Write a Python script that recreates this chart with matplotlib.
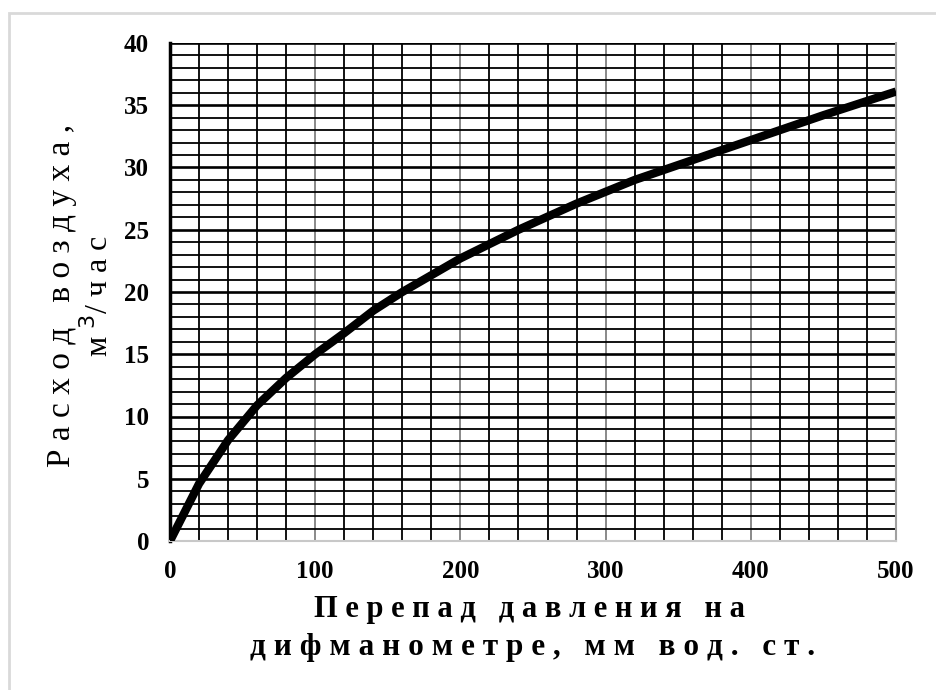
import numpy as np
import matplotlib
matplotlib.use("Agg")
import matplotlib.pyplot as plt
from matplotlib.patches import Rectangle

plt.rcParams["font.family"] = ["Liberation Serif", "DejaVu Serif"]

# перепад давления, мм вод. ст. / расход воздуха, м3/час
dp = [0, 20, 40, 60, 80, 100, 120, 140, 160, 200, 240, 280, 320, 360, 400, 450, 500]
flow = [0, 4.6, 8.1, 10.9, 13.1, 15.0, 16.7, 18.5, 20.0, 22.7, 25.0, 27.1, 29.0,
        30.6, 32.2, 34.2, 36.1]
x_ticks = [0, 100, 200, 300, 400, 500]
y_ticks = [0, 5, 10, 15, 20, 25, 30, 35, 40]

W, H = 936, 690
fig = plt.figure(figsize=(W/100, H/100), dpi=100)
fig.patches.append(Rectangle((8.5/W, 0 - 0.1), 2, (H - 13.5)/H + 0.1,
                             transform=fig.transFigure, fill=False,
                             edgecolor="#d9d9d9", lw=2))

ax = fig.add_axes([170/W, 1 - 541/H, (896 - 170)/W, (541 - 43)/H])
ax.set_xlim(0, 500); ax.set_ylim(0, 40)

# сетка
for xv in range(20, 500, 20):
    ax.axvline(xv, color="#808080" if xv % 100 == 0 else "black", lw=1.3, zorder=1)
for yv in range(1, 41):
    ax.axhline(yv, color="black", lw=1.9 if yv % 5 == 0 else 1.3, zorder=1)

ax.plot(dp, flow, color="black", lw=6, solid_capstyle="butt", zorder=3)

ax.spines["left"].set_linewidth(2.5)
ax.spines["left"].set_color("black")
ax.spines["bottom"].set_color("#c8c8c8"); ax.spines["bottom"].set_linewidth(1.5)
ax.spines["right"].set_color("#a0a0a0"); ax.spines["right"].set_linewidth(1.5)
ax.spines["top"].set_visible(False)

ax.set_xticks(x_ticks); ax.set_yticks(y_ticks)
ax.tick_params(length=0, labelsize=18)
ax.tick_params(axis="x", pad=14)
ax.tick_params(axis="y", pad=15)
for lab in ax.get_xticklabels() + ax.get_yticklabels():
    lab.set_fontweight("bold")

fig.text(529/W, 1 - 610/H, "П е р е п а д   д а в л е н и я   н а",
         ha="center", va="center", fontsize=22, fontweight="bold")
fig.text(533/W, 1 - 647/H, "д и ф м а н о м е т р е ,   м м   в о д .   с т .",
         ha="center", va="center", fontsize=22.5, fontweight="bold")
fig.text(62/W, 1 - 295/H, "Р а с х о д   в о з д у х а ,",
         ha="center", va="center", rotation=90, fontsize=24)
fig.text(99/W, 1 - 296/H, "м $^{3}$/ ч а с",
         ha="center", va="center", rotation=90, fontsize=23)

fig.savefig("out.png", dpi=100)
